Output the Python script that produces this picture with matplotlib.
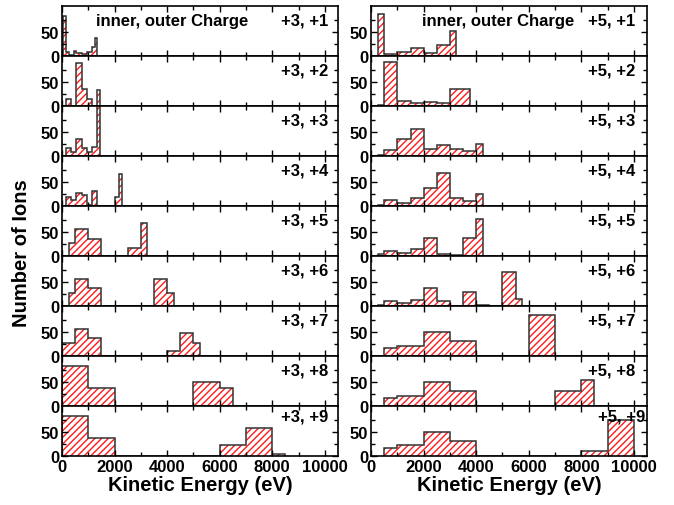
import matplotlib
matplotlib.use("Agg")
import matplotlib.pyplot as plt
from matplotlib.ticker import FixedLocator, MultipleLocator

plt.rcParams['font.family'] = ['Liberation Sans', 'DejaVu Sans']
plt.rcParams['font.weight'] = 'bold'
plt.rcParams['hatch.linewidth'] = 1.0

# left column: inner charge +3
left_labels = ['+3, +1', '+3, +2', '+3, +3', '+3, +4', '+3, +5',
               '+3, +6', '+3, +7', '+3, +8', '+3, +9']
left_edges = [
    [50, 150, 250, 350, 450, 550, 650, 750, 850, 950, 1050, 1150, 1250, 1350],
    [150, 350, 550, 750, 950, 1150, 1350, 1450],
    [150, 350, 550, 750, 950, 1150, 1350, 1450],
    [150, 350, 550, 750, 950, 1150, 1350, 2000, 2150, 2300],
    [250, 500, 1000, 1500, 2500, 3000, 3250],
    [250, 500, 1000, 1500, 3500, 4000, 4250],
    [0, 500, 1000, 1500, 4000, 4500, 5000, 5250],
    [0, 1000, 2000, 5000, 6000, 6500],
    [0, 1000, 2000, 6000, 7000, 8000, 8500],
]
left_counts = [
    [83, 8, 3, 3, 10, 6, 6, 5, 5, 8, 8, 19, 38],
    [15, 0, 90, 35, 14, 0, 34],
    [17, 8, 35, 17, 8, 18, 110],
    [19, 12, 27, 22, 2, 31, 0, 19, 67],
    [26, 57, 36, 0, 17, 69],
    [26, 57, 37, 0, 56, 28],
    [26, 56, 37, 0, 10, 47, 26],
    [83, 37, 0, 49, 37],
    [83, 37, 0, 22, 58, 4],
]

# right column: inner charge +5
right_labels = ['+5, +1', '+5, +2', '+5, +3', '+5, +4', '+5, +5',
                '+5, +6', '+5, +7', '+5, +8', '+5, +9']
right_edges = [
    [250, 500, 1000, 1500, 2000, 2500, 3000, 3250],
    [250, 500, 1000, 1500, 2000, 2500, 3000, 3500, 3750],
    [250, 500, 1000, 1500, 2000, 2500, 3000, 3500, 4000, 4250],
    [250, 500, 1000, 1500, 2000, 2500, 3000, 3500, 4000, 4250],
    [250, 500, 1000, 1500, 2000, 2500, 3000, 3500, 4000, 4250],
    [250, 500, 1000, 1500, 2000, 2500, 3000, 3500, 4000, 4500, 5000, 5500, 5750],
    [500, 1000, 2000, 3000, 4000, 6000, 7000],
    [500, 1000, 2000, 3000, 4000, 7000, 8000, 8500],
    [500, 1000, 2000, 3000, 4000, 8000, 9000, 10000],
]
right_counts = [
    [88, 5, 8, 17, 7, 24, 52],
    [3, 92, 10, 7, 8, 7, 35, 36],
    [3, 13, 35, 56, 15, 22, 15, 11, 25],
    [3, 13, 6, 16, 37, 68, 16, 10, 26],
    [4, 11, 6, 15, 37, 4, 2, 37, 78],
    [3, 11, 6, 12, 37, 10, 0, 30, 1, 0, 70, 15],
    [16, 21, 49, 31, 0, 85],
    [16, 21, 49, 31, 0, 31, 53],
    [16, 22, 49, 31, 0, 10, 74],
]

fig, axes = plt.subplots(9, 2, figsize=(6.74, 5.06), dpi=100, sharex=True)
fig.subplots_adjust(left=0.092, right=0.960, top=0.986, bottom=0.097,
                    hspace=0, wspace=0.12)

columns = [(left_labels, left_edges, left_counts, 0.965, 0.40),
           (right_labels, right_edges, right_counts, 0.957, 0.46)]

for col, (labels, edges, counts, lab_x, title_x) in enumerate(columns):
    for row in range(9):
        ax = axes[row, col]
        ax.stairs(counts[row], edges[row], fill=True, facecolor='white',
                  edgecolor='#ff1a1a', hatch='/////', linewidth=0)
        ax.stairs(counts[row], edges[row], color='#333333', linewidth=1.1,
                  baseline=0)
        ax.set_xlim(0, 10500)
        ax.set_ylim(0, 104)
        ax.yaxis.set_major_locator(FixedLocator([0, 50]))
        ax.yaxis.set_minor_locator(FixedLocator([25, 75]))
        ax.xaxis.set_major_locator(MultipleLocator(2000))
        ax.xaxis.set_minor_locator(MultipleLocator(1000))
        ax.tick_params(which='both', direction='in', top=True, right=True,
                       labelsize=12, width=1.0, pad=2)
        ax.tick_params(which='major', length=4)
        ax.tick_params(which='minor', length=3)
        for s in ax.spines.values():
            s.set_linewidth(1.2)
        x, y = lab_x, 0.72
        if row == 8:
            y = 0.8
            if col == 1:
                x = 0.995
        ax.text(x, y, labels[row], transform=ax.transAxes, ha='right',
                va='center', fontsize=12, fontweight='bold')
        if row == 0:
            ax.text(title_x, 0.72, 'inner, outer Charge', transform=ax.transAxes,
                    ha='center', va='center', fontsize=12, fontweight='bold')
    axes[8, col].set_xlabel('Kinetic Energy (eV)', fontsize=14.5,
                            fontweight='bold', labelpad=1)

fig.text(0.032, 0.5, 'Number of Ions', rotation=90, ha='center', va='center',
         fontsize=14.5, fontweight='bold')

fig.savefig('out.png', dpi=100)
